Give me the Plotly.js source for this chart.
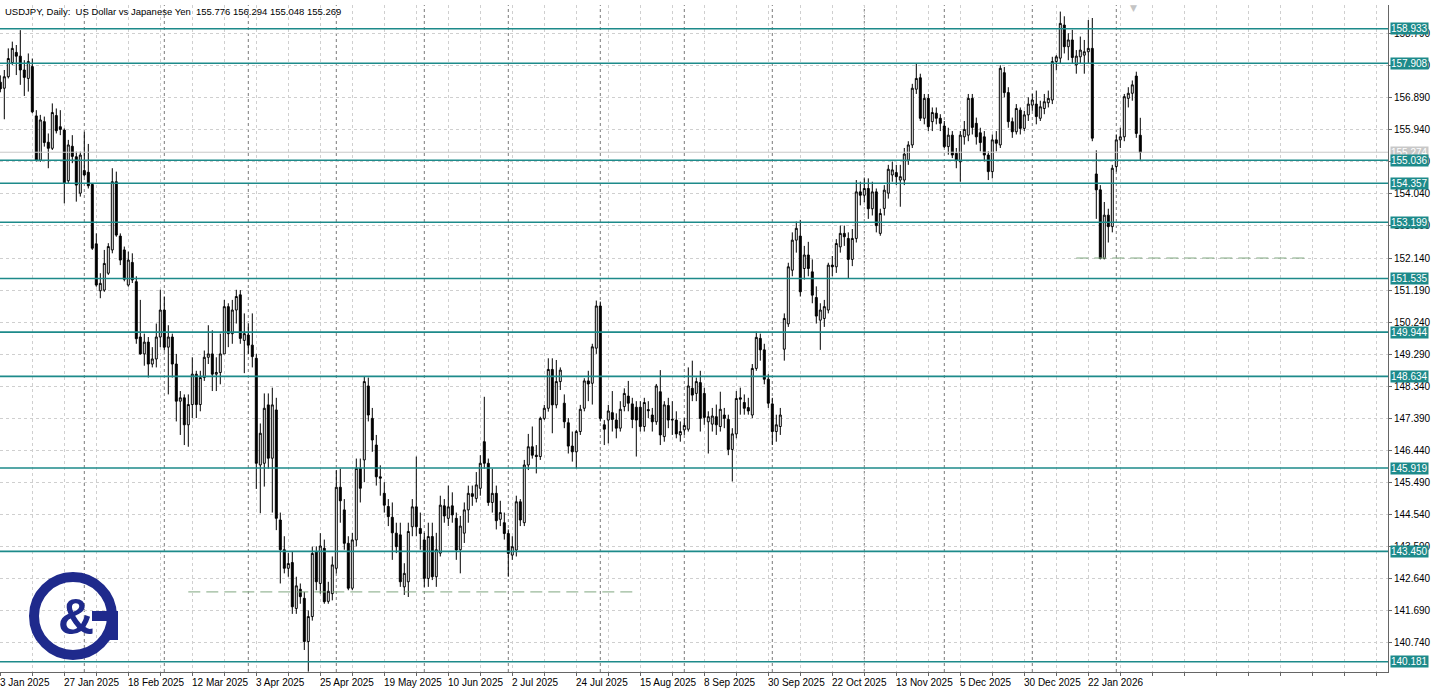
<!DOCTYPE html>
<html><head><meta charset="utf-8">
<script src="https://cdn.plot.ly/plotly-3.0.1.min.js"></script>
<style>html,body{margin:0;padding:0;background:#fff;}#chart{width:1438px;height:693px;}</style>
</head><body><div id="chart"></div>
<script>
const symbolTitle = "USDJPY, Daily:\u00a0\u00a0US Dollar vs Japanese Yen\u00a0\u00a0155.776 156.294 155.048 155.269";
const firstDate = "2025-01-03", lastDate = "2026-02-10";
const closedDays = ["2025-12-25", "2026-01-01"];

const open = [
157.35,157.17,157.51,157.93,158.23,158.12,157.71,157.46,157.81,156.35,
155.04,156.18,155.57,155.39,156.36,156.03,155.93,154.43,155.45,155.14,
154.06,154.73,154.68,154.32,152.56,151.17,151.19,151.69,152.38,154.40,
152.79,152.38,151.34,152.01,151.44,149.80,149.30,149.65,149.00,149.15,
149.80,150.60,149.50,149.80,149.00,147.90,148.00,147.20,147.80,148.70,
147.80,148.60,149.20,149.30,148.70,148.75,149.30,150.70,149.90,150.60,
151.05,149.70,149.86,149.56,149.17,146.01,146.06,147.79,146.21,147.64,
144.38,143.50,142.95,143.12,141.76,142.33,142.06,140.78,141.52,143.44,
142.50,143.54,141.97,142.20,142.95,145.35,144.68,143.69,142.36,143.79,
145.91,146.16,148.35,147.39,146.60,145.66,145.17,144.78,144.46,143.99,
143.94,142.40,142.55,144.18,144.77,144.13,143.79,142.65,143.89,142.70,
143.40,144.80,144.43,144.80,144.43,143.50,143.99,144.68,145.16,145.02,
145.32,146.70,146.06,144.90,145.17,144.40,144.30,143.98,143.34,143.49,
144.92,144.30,146.01,146.55,146.30,146.26,147.39,147.69,148.84,147.79,
148.48,147.84,147.26,146.57,146.40,147.00,147.69,148.50,148.43,149.47,
150.72,147.20,147.34,147.56,147.34,147.10,147.74,148.05,147.82,147.72,
147.72,147.15,147.65,147.49,147.29,148.18,146.85,147.77,147.34,147.34,
146.90,147.05,147.07,148.28,148.13,148.45,148.13,147.29,147.22,147.44,
147.15,147.49,147.36,146.47,146.93,148.00,147.86,147.71,147.49,148.87,
149.76,149.42,148.55,147.82,147.00,147.15,149.44,150.19,151.78,152.67,
152.79,151.83,152.23,151.73,150.97,150.30,150.35,150.60,151.93,151.88,
152.47,152.87,152.72,152.10,152.72,154.10,154.00,154.20,153.60,154.10,
152.87,153.61,154.06,154.60,154.67,154.45,154.45,155.04,155.49,157.14,
157.48,156.28,156.87,156.18,156.43,156.28,156.05,155.44,155.78,155.24,
154.99,155.73,155.78,156.87,156.13,155.85,155.73,155.19,154.70,155.64,
155.49,157.63,157.04,156.18,155.88,156.52,155.98,156.38,156.67,156.70,
156.28,156.57,156.74,156.82,157.96,158.06,159.04,158.40,158.60,157.86,
158.10,158.15,158.25,158.35,154.63,154.16,152.13,153.41,153.07,154.85,
155.64,155.73,156.87,157.02,157.53,155.776];

const high = [
157.55,157.71,158.35,158.55,158.45,158.89,158.00,158.20,158.05,156.52,
156.38,156.33,155.83,156.72,156.57,156.52,155.98,155.64,155.78,155.29,
155.29,155.88,155.52,154.35,152.87,151.69,152.38,152.58,154.80,154.70,
152.87,152.48,152.33,152.28,151.60,150.90,149.90,149.80,149.50,150.20,
151.20,151.00,150.15,149.90,149.30,148.20,148.10,148.10,149.20,148.80,
148.80,149.40,150.15,150.00,149.20,149.90,150.90,150.80,150.90,151.20,
151.19,150.50,150.20,150.50,149.30,147.24,148.13,148.13,148.30,148.00,
144.60,143.90,143.40,143.44,142.70,142.50,142.25,141.70,143.59,143.60,
143.99,143.80,142.55,143.30,145.86,145.90,145.00,143.90,144.00,146.20,
146.20,148.63,148.60,147.70,146.90,146.00,145.50,145.00,144.90,144.30,
144.30,143.10,144.30,145.00,146.26,144.60,144.00,144.30,144.30,144.00,
145.10,145.00,145.40,145.20,144.60,144.50,144.90,145.40,145.40,145.80,
146.30,148.03,146.20,145.90,145.40,144.95,144.60,144.10,143.90,145.10,
145.00,146.16,146.93,147.15,146.60,147.44,147.79,149.17,149.17,149.12,
148.90,148.10,147.40,147.00,147.05,147.79,148.58,148.80,149.60,150.88,
150.85,147.34,147.79,148.20,147.54,147.90,148.28,148.50,148.00,147.90,
147.90,148.00,147.90,147.70,148.41,148.82,147.90,148.00,147.90,147.60,
147.30,147.40,148.90,149.10,148.60,148.80,148.30,147.60,147.70,147.80,
148.18,147.70,147.50,147.10,148.20,148.30,148.10,148.00,149.00,149.96,
149.90,149.60,148.70,148.00,147.50,147.70,150.50,152.00,152.90,153.22,
153.27,152.50,152.62,152.10,151.30,150.80,150.90,152.00,152.20,152.70,
153.10,153.10,152.90,153.00,154.45,154.40,154.50,154.50,154.40,154.20,
153.60,154.30,154.90,155.00,154.90,154.90,155.40,155.60,157.30,157.91,
157.60,157.00,157.00,156.60,156.60,156.40,156.20,156.00,155.90,155.40,
155.90,156.20,157.00,157.00,156.30,156.00,155.90,155.30,155.80,155.90,
157.85,157.80,157.20,156.30,156.70,156.60,156.50,156.90,157.00,157.10,
156.80,157.00,157.10,158.10,158.15,159.44,159.30,158.80,158.90,158.30,
158.70,158.60,159.19,159.25,155.33,154.30,153.80,153.60,154.90,155.80,
156.00,157.00,157.20,157.40,157.66,156.294];

const low = [
157.05,156.25,157.46,157.86,157.56,157.27,156.94,157.07,156.43,155.00,
154.99,155.44,154.80,155.34,155.83,155.78,153.76,154.35,154.95,153.81,
153.96,154.55,154.20,152.38,151.29,150.95,151.14,151.64,152.28,152.77,
151.93,151.45,151.29,151.40,149.60,149.28,148.95,148.60,148.90,148.90,
149.50,149.40,148.10,148.60,147.30,146.90,146.60,146.55,147.40,147.40,
147.60,148.50,149.00,148.20,148.20,148.40,149.30,149.50,149.60,150.20,
149.60,148.73,149.30,148.90,145.30,144.58,145.37,145.90,144.60,144.08,
142.50,142.80,142.70,141.60,141.60,141.90,140.53,139.89,141.40,142.30,
142.20,141.90,141.90,142.00,142.80,144.30,143.50,142.30,142.30,143.60,
144.90,145.50,147.30,146.40,145.40,145.10,144.60,144.20,143.20,143.40,
142.40,142.16,142.10,143.90,143.90,143.50,142.40,142.40,142.60,142.40,
143.30,144.30,144.20,144.30,143.20,142.80,143.70,144.30,144.80,144.90,
145.10,145.90,144.80,144.60,144.10,144.20,143.80,142.70,143.20,143.30,
144.20,144.20,145.86,146.20,145.76,146.16,147.34,147.59,146.95,147.69,
148.23,147.10,146.35,146.11,145.91,146.90,147.60,147.90,147.80,149.30,
147.30,146.60,146.65,147.00,146.80,147.00,147.60,147.60,147.10,146.26,
147.00,147.00,147.40,147.00,147.20,146.60,146.70,147.10,146.90,146.80,
146.70,146.90,147.00,147.90,147.90,147.00,147.20,146.35,147.00,146.90,
147.00,147.10,146.30,145.52,146.80,147.50,147.50,147.50,147.40,148.80,
149.10,148.40,147.70,146.60,146.70,146.90,149.10,150.10,151.60,152.30,
151.00,151.50,151.60,150.80,150.20,149.42,150.10,150.50,151.60,151.70,
152.30,152.50,151.54,151.90,152.60,153.70,153.80,153.30,153.40,152.90,
152.80,153.40,153.90,154.40,154.30,153.66,154.30,154.90,155.40,157.00,
156.20,156.10,155.90,155.90,156.10,155.90,155.40,155.20,155.10,154.80,
154.40,155.50,155.60,155.80,155.50,155.30,155.00,154.45,154.50,155.30,
155.40,156.90,156.00,155.70,155.80,155.80,155.90,156.20,156.50,156.10,
156.20,156.40,156.60,156.70,157.70,157.90,158.20,158.00,157.90,157.60,
157.90,157.60,157.90,155.60,153.30,152.10,152.10,152.60,152.90,154.70,
155.40,155.60,156.60,156.80,155.70,155.048];

const close = [
157.15,157.51,158.05,158.35,158.12,157.71,157.49,157.96,156.47,155.04,
156.23,155.56,155.39,156.45,155.91,155.95,154.35,155.49,155.15,154.30,
155.19,154.60,154.28,152.43,151.34,151.39,151.98,152.48,154.40,152.82,
152.08,151.51,152.08,151.49,149.75,149.30,149.65,149.00,149.15,149.80,
150.60,149.50,149.80,149.00,147.90,148.00,147.20,147.80,148.70,147.80,
148.60,149.20,149.30,148.70,148.75,149.30,150.70,149.90,150.60,151.00,
149.76,149.90,149.56,149.22,146.06,146.95,147.69,146.21,147.79,144.43,
143.50,142.95,143.09,141.81,142.43,142.11,140.78,141.52,143.39,142.55,
143.61,141.96,142.27,143.05,145.35,144.95,143.69,142.36,143.79,145.91,
145.32,148.48,147.49,146.75,145.66,145.62,144.82,144.48,144.00,143.59,
142.55,142.80,144.04,144.77,144.18,143.98,142.65,143.89,142.70,143.50,
144.82,144.50,144.77,144.53,143.49,144.20,144.68,145.17,145.08,145.42,
146.06,146.06,144.90,145.17,144.36,144.60,143.98,143.39,143.59,144.92,
144.38,146.01,146.55,146.30,146.26,147.39,147.69,148.84,147.79,148.48,
148.82,147.29,146.57,146.40,147.00,147.66,148.50,148.41,149.51,150.72,
147.39,147.07,147.61,147.36,147.10,147.66,148.13,147.84,147.36,147.34,
147.15,147.86,147.62,147.29,148.35,146.90,147.79,147.34,147.36,146.93,
147.00,147.18,148.35,148.08,148.48,147.39,147.42,147.44,147.46,147.20,
147.66,147.39,146.47,146.93,147.98,147.96,147.69,147.61,148.87,149.79,
149.42,148.55,147.84,147.00,147.20,147.49,150.35,151.88,152.67,153.02,
151.14,152.23,151.83,151.04,150.42,150.60,150.70,151.93,151.88,152.57,
152.87,152.77,152.10,152.72,154.10,154.00,154.20,153.60,154.10,153.10,
153.46,154.15,154.77,154.75,154.55,154.55,155.22,155.49,157.17,157.46,
156.28,156.87,156.03,156.45,156.28,156.13,155.44,155.78,155.19,155.04,
155.78,155.95,156.87,156.01,155.73,155.56,155.19,154.70,155.64,155.54,
157.76,157.04,156.18,155.88,156.57,155.98,156.38,156.70,156.82,156.33,
156.62,156.77,156.87,157.96,158.10,159.09,158.40,158.60,158.08,158.12,
158.30,158.25,158.35,155.69,154.16,152.13,153.41,153.07,154.80,155.64,
155.73,156.92,157.02,157.27,155.83,155.269];

const levels = [158.933,157.908,155.036,154.357,153.199,151.535,149.944,148.634,145.919,143.450,140.181];
const bidPrice = 155.274;
const greenLevels = [142.25, 152.14];
const greenFromBar = [47, 269];
const greenToBar = [159.5, 327.5];
const yTicks = [140.740,141.690,142.640,143.590,144.540,145.490,146.440,147.390,148.340,149.290,
                150.240,151.190,152.140,153.090,154.040,154.990,155.940,156.890,157.840,158.790];
const monthNames = ["Jan","Feb","Mar","Apr","May","Jun","Jul","Aug","Sep","Oct","Nov","Dec"];
const labelEvery = 16;

// trading calendar (weekdays, minus closed days)
const dates = [];
(function(){
  let d = new Date(firstDate + "T00:00:00Z");
  const end = new Date(lastDate + "T00:00:00Z");
  while (d <= end) {
    const iso = d.toISOString().slice(0,10);
    const wd = d.getUTCDay();
    if (wd !== 0 && wd !== 6 && closedDays.indexOf(iso) < 0) dates.push(iso);
    d = new Date(d.getTime() + 86400000);
  }
})();
const idx = dates.map((_, i) => i);

const FONT = "Liberation Sans, Arial, sans-serif";
const TEAL = "#1d8a8a";
const PW = 1388, PH = 667, PT = 5;
const px = v => v / PW;
const py = v => 1 - (v - PT) / PH;

const shapes = [];
const annotations = [];

// month separators
for (let i = 1; i < dates.length; i++) {
  if (dates[i].slice(5,7) !== dates[i-1].slice(5,7)) {
    shapes.push({type:"line", layer:"below", xref:"x", yref:"paper", x0:i, x1:i, y0:0, y1:1,
      line:{color:"#7a7a7a", width:1, dash:"3px,3px"}});
  }
}
// bid line
shapes.push({type:"line", xref:"paper", yref:"y", x0:0, x1:1, y0:bidPrice, y1:bidPrice,
  line:{color:"#c8c8c8", width:1}});
// green dashed support segments
greenLevels.forEach((lv, k) => {
  shapes.push({type:"line", xref:"x", yref:"y", x0:greenFromBar[k], x1:greenToBar[k], y0:lv, y1:lv,
    line:{color:"#7fa67f", width:1, dash:"12px,6px"}});
});
// teal levels
levels.forEach(lv => {
  shapes.push({type:"line", xref:"paper", yref:"y", x0:0, x1:1, y0:lv, y1:lv,
    line:{color:TEAL, width:1.6}});
});

// logo (C&G)
const NAVY = "#1f2a8c";
shapes.push({type:"circle", xref:"paper", yref:"paper",
  x0:px(34), x1:px(112), y0:py(655), y1:py(577), line:{color:NAVY, width:10}});
shapes.push({type:"rect", xref:"paper", yref:"paper",
  x0:px(92), x1:px(118), y0:py(621), y1:py(611), fillcolor:NAVY, line:{width:0}});
shapes.push({type:"rect", xref:"paper", yref:"paper",
  x0:px(108), x1:px(118), y0:py(640), y1:py(611), fillcolor:NAVY, line:{width:0}});
annotations.push({xref:"paper", yref:"paper", x:px(76), y:py(617), xanchor:"center", yanchor:"middle",
  text:"<b>&</b>", showarrow:false, font:{family:FONT, size:50, color:NAVY}});

// title
annotations.push({xref:"paper", yref:"paper", x:0, y:1, xanchor:"left", yanchor:"top", xshift:3, yshift:1,
  text:symbolTitle, showarrow:false, font:{family:FONT, size:9.5, color:"#000"}});

// shift marker
annotations.push({xref:"paper", yref:"paper", x:px(1139), y:1, yanchor:"top", yshift:4,
  text:"\u25BC", showarrow:false, font:{family:"DejaVu Sans", size:9, color:"#c4c4c4"}});

// date labels
for (let i = 0; i < dates.length; i += labelEvery) {
  const p = dates[i].split("-");
  const txt = parseInt(p[2],10) + " " + monthNames[parseInt(p[1],10)-1] + " " + p[0];
  annotations.push({xref:"x", yref:"paper", x:i, y:0, xanchor:"left", yanchor:"top", xshift:-2, yshift:-3,
    text:txt, showarrow:false, font:{family:FONT, size:10, color:"#000"}});
}

// price boxes
annotations.push({xref:"paper", yref:"y", x:1, y:bidPrice, xanchor:"left", xshift:2,
  text:bidPrice.toFixed(3), showarrow:false, bgcolor:"#c8c8c8", borderpad:0,
  font:{family:FONT, size:10, color:"#ffffff"}});
levels.forEach(lv => {
  annotations.push({xref:"paper", yref:"y", x:1, y:lv, xanchor:"left", xshift:2,
    text:lv.toFixed(3), showarrow:false, bgcolor:TEAL, borderpad:0,
    font:{family:FONT, size:10, color:"#ffffff"}});
});

const gridX = [];
for (let g = 0; g <= 344; g += 8) gridX.push(g);

const trace = {
  type:"candlestick", x:idx, open:open, high:high, low:low, close:close,
  increasing:{line:{color:"#000000", width:1}, fillcolor:"#ffffff"},
  decreasing:{line:{color:"#000000", width:1}, fillcolor:"#000000"},
  whiskerwidth:0, hoverinfo:"none", showlegend:false
};

const layout = {
  width:1438, height:693,
  margin:{l:0, r:50, t:PT, b:21, pad:0},
  paper_bgcolor:"#ffffff", plot_bgcolor:"#ffffff",
  showlegend:false,
  xaxis:{range:[-0.075, 346.925], tickvals:gridX, showticklabels:false,
    ticks:"outside", ticklen:3, tickcolor:"#666", showline:true, linecolor:"#666", linewidth:1,
    showgrid:true, gridcolor:"#cfcfcf", griddash:"3px,3px", gridwidth:1, zeroline:false,
    rangeslider:{visible:false}, fixedrange:true},
  yaxis:{side:"right", range:[139.878, 159.635], tickvals:yTicks, ticktext:yTicks.map(v=>v.toFixed(3)),
    ticks:"outside", ticklen:3, tickcolor:"#666", showline:true, linecolor:"#666", linewidth:1,
    showgrid:true, gridcolor:"#cfcfcf", griddash:"3px,3px", gridwidth:1, zeroline:false,
    tickfont:{family:FONT, size:10, color:"#000"}, fixedrange:true},
  shapes:shapes, annotations:annotations
};

Plotly.newPlot("chart", [trace], layout, {displayModeBar:false, staticPlot:true});
</script>
</body></html>
